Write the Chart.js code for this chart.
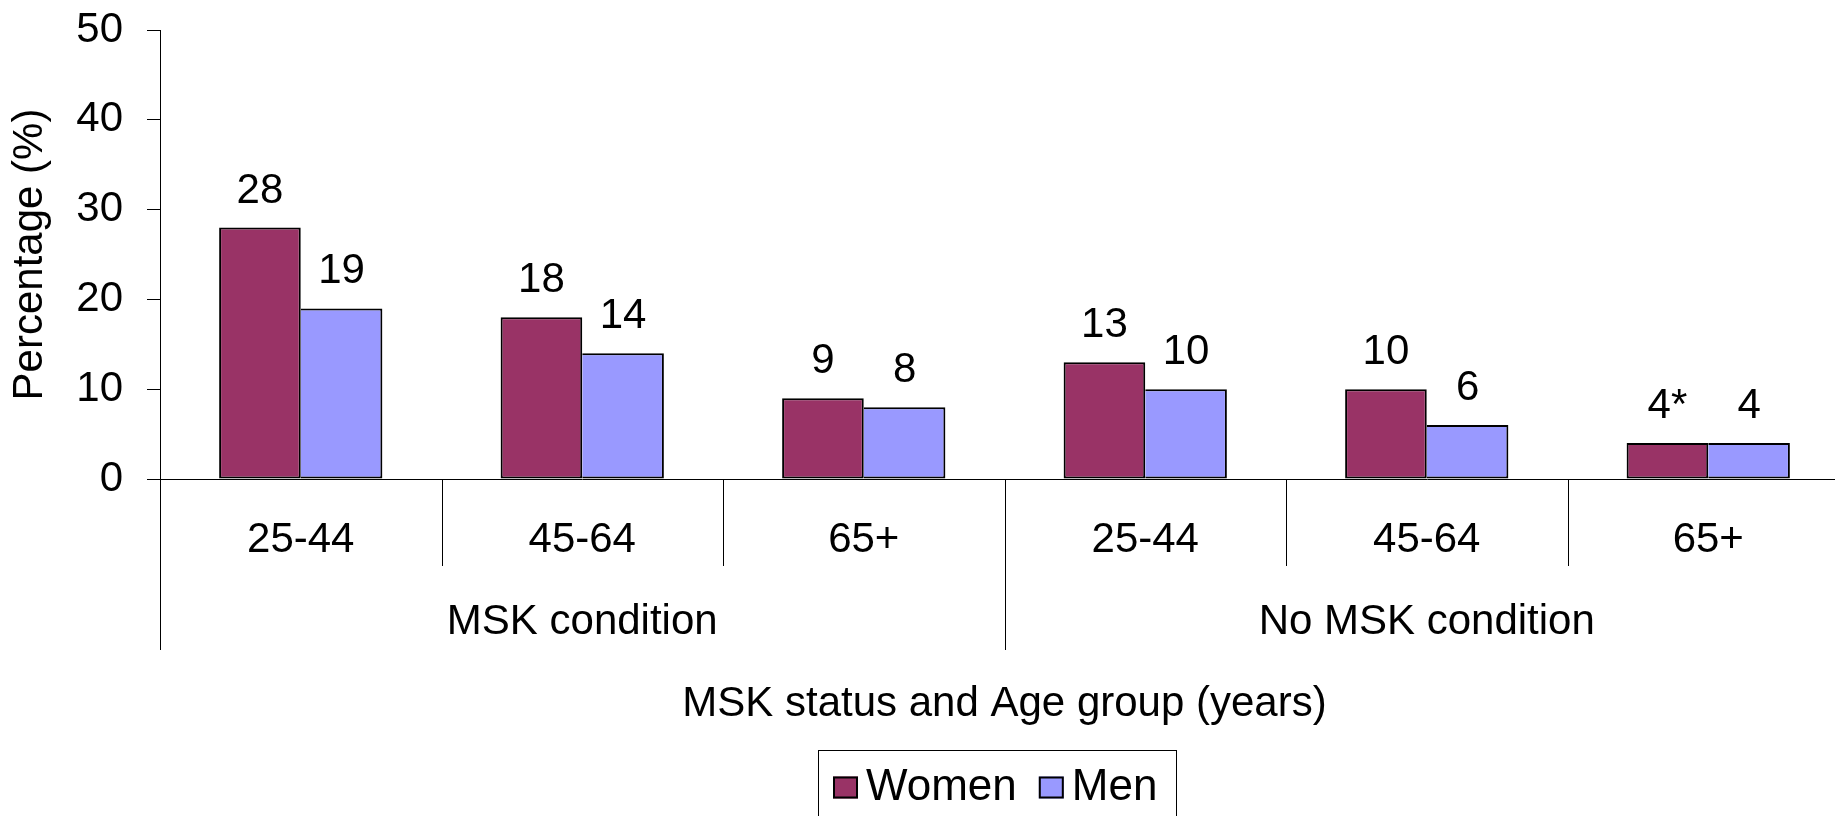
<!DOCTYPE html>
<html>
<head>
<meta charset="utf-8">
<script src="https://cdn.jsdelivr.net/npm/chart.js@4/dist/chart.umd.min.js"></script>
<style>
  html, body { margin: 0; padding: 0; background: #ffffff; overflow: hidden; }
  #wrap { position: absolute; left: 0; top: 0; width: 1860px; height: 840px; }
</style>
</head>
<body>
<div id="wrap"><canvas id="chart"></canvas></div>
<script>
// Share of people (%) by MSK status, age group and sex
const categories = ['25-44', '45-64', '65+', '25-44', '45-64', '65+'];
const groups = ['MSK condition', 'No MSK condition'];
const women = [28, 18, 9, 13, 10, 4];
const men = [19, 14, 8, 10, 6, 4];
const womenNotes = ['', '', '', '', '', '*'];
const menNotes = ['', '', '', '', '', ''];
const yMin = 0;
const yMax = 50;
const yStep = 10;

const FONT = '"Liberation Sans", Arial, Helvetica, sans-serif';
Chart.defaults.font.family = FONT;
Chart.defaults.color = '#000000';

// Value labels above every bar
const valueLabels = {
  id: 'valueLabels',
  afterDatasetsDraw(chart, args, opts) {
    const ctx = chart.ctx;
    ctx.save();
    ctx.font = opts.size + 'px ' + FONT;
    ctx.fillStyle = '#000000';
    ctx.textAlign = 'center';
    ctx.textBaseline = 'alphabetic';
    chart.data.datasets.forEach((ds, di) => {
      const meta = chart.getDatasetMeta(di);
      meta.data.forEach((bar, i) => {
        const text = String(ds.data[i]) + (ds.notes ? ds.notes[i] : '');
        ctx.fillText(text, bar.x, bar.y - opts.gap);
      });
    });
    ctx.restore();
  }
};

// Divider lines between age groups and between MSK status groups
const dividers = {
  id: 'dividers',
  afterDraw(chart, args, opts) {
    const ctx = chart.ctx;
    const x = chart.scales.x;
    const g = chart.scales.group;
    const bottom = chart.chartArea.bottom;
    const px = v => Math.round(v) + 0.5;
    ctx.save();
    ctx.strokeStyle = '#000000';
    ctx.lineWidth = 1;
    ctx.beginPath();
    // left axis continues down through both label rows
    ctx.moveTo(px(chart.chartArea.left), bottom);
    ctx.lineTo(px(chart.chartArea.left), g.bottom);
    const perGroup = categories.length / groups.length;
    for (let i = 1; i < categories.length; i++) {
      const xb = (x.getPixelForValue(i - 1) + x.getPixelForValue(i)) / 2;
      const end = (i % perGroup === 0) ? g.bottom : x.bottom;
      ctx.moveTo(px(xb), bottom);
      ctx.lineTo(px(xb), end);
    }
    ctx.stroke();
    ctx.restore();
  }
};

// Framed legend under the axis title
const boxedLegend = {
  id: 'boxedLegend',
  afterDraw(chart, args, o) {
    const ctx = chart.ctx;
    const ds = chart.data.datasets;
    ctx.save();
    ctx.font = o.size + 'px ' + FONT;
    const widths = ds.map(d => ctx.measureText(d.label).width);
    let total = o.padLeft + o.padRight;
    widths.forEach((w, i) => { total += o.box + o.gap + w + (i ? o.itemGap : 0); });
    const area = chart.chartArea;
    const left = Math.round((area.left + area.right) / 2 + o.shift - total / 2);
    const top = Math.round(chart.titleBlock.bottom + o.marginTop);
    ctx.strokeStyle = '#000000';
    ctx.lineWidth = 1;
    ctx.strokeRect(left + 0.5, top + 0.5, Math.round(total), o.height);
    const cy = top + o.height / 2;
    let cx = left + o.padLeft;
    ds.forEach((d, i) => {
      if (i) cx += o.itemGap;
      ctx.fillStyle = d.backgroundColor;
      ctx.fillRect(cx, cy - o.boxH / 2, o.box, o.boxH);
      ctx.lineWidth = 2;
      ctx.strokeRect(cx + 1, cy - o.boxH / 2 + 1, o.box - 2, o.boxH - 2);
      cx += o.box + o.gap;
      ctx.fillStyle = '#000000';
      ctx.textAlign = 'left';
      ctx.textBaseline = 'middle';
      ctx.fillText(d.label, cx, cy);
      cx += widths[i];
    });
    ctx.restore();
  }
};

new Chart(document.getElementById('chart'), {
  type: 'bar',
  data: {
    labels: categories,
    datasets: [
      {
        label: 'Women',
        data: women,
        notes: womenNotes,
        xAxisID: 'x',
        yAxisID: 'y',
        backgroundColor: '#993366',
        borderColor: '#000000',
        borderWidth: 2,
        borderSkipped: false
      },
      {
        label: 'Men',
        data: men,
        notes: menNotes,
        xAxisID: 'x',
        yAxisID: 'y',
        backgroundColor: '#9999FF',
        borderColor: '#000000',
        borderWidth: 2,
        borderSkipped: 'left'
      }
    ]
  },
  options: {
    responsive: true,
    maintainAspectRatio: false,
    animation: false,
    events: [],
    layout: { padding: { left: 0, top: 30, right: 11, bottom: 100.6 } },
    datasets: { bar: { barPercentage: 1.0, categoryPercentage: 0.58 } },
    scales: {
      y: {
        position: 'left',
        min: yMin,
        max: yMax,
        ticks: { stepSize: yStep, font: { size: 42 }, color: '#000000', padding: 24 },
        grid: { display: true, drawOnChartArea: false, drawTicks: true, tickLength: 13, color: '#000000', lineWidth: 1 },
        border: { display: true, color: '#000000', width: 1 },
        title: { display: true, text: 'Percentage (%)', font: { size: 42 }, color: '#000000', padding: { top: 5, bottom: 0 } },
        afterFit(scale) {
          scale.width = 160;
          scale.paddingTop = 0;
          scale.paddingBottom = 0;
        }
      },
      x: {
        type: 'category',
        position: 'bottom',
        offset: true,
        ticks: { font: { size: 42 }, color: '#000000', padding: 36, maxRotation: 0, autoSkip: false },
        grid: { display: true, drawOnChartArea: false, drawTicks: false, color: 'rgba(0,0,0,0)' },
        border: { display: true, color: '#000000', width: 1 },
        afterFit(scale) { scale.height = 87; }
      },
      group: {
        type: 'category',
        axis: 'x',
        position: 'bottom',
        labels: groups,
        offset: true,
        ticks: { font: { size: 42 }, color: '#000000', padding: 31, maxRotation: 0, autoSkip: false },
        grid: { display: false, drawTicks: false },
        border: { display: false },
        afterFit(scale) { scale.height = 84; }
      }
    },
    plugins: {
      legend: { display: false },
      tooltip: { enabled: false },
      title: {
        display: true,
        position: 'bottom',
        fullSize: false,
        text: 'MSK status and Age group (years)',
        font: { size: 42, weight: 'normal' },
        color: '#000000',
        padding: { top: 29, bottom: 10 }
      },
      valueLabels: { size: 42, gap: 25 },
      boxedLegend: {
        size: 44, box: 25, boxH: 22, gap: 8, itemGap: 22,
        padLeft: 15, padRight: 19, shift: -7, marginTop: 10.6, height: 75
      }
    }
  },
  plugins: [valueLabels, dividers, boxedLegend]
});
</script>
</body>
</html>
